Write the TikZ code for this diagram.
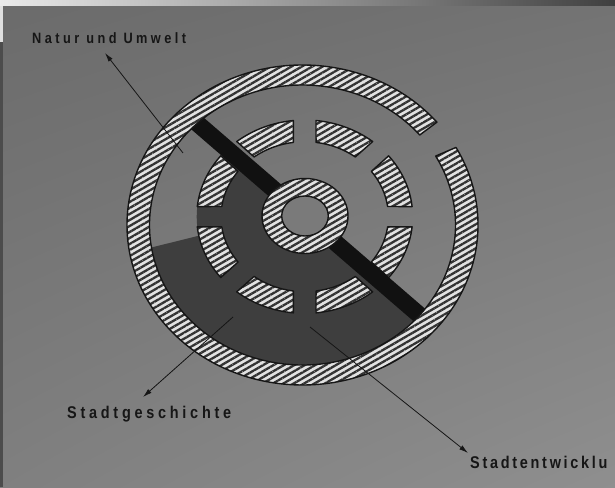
\documentclass[tikz,border=0pt]{standalone}
\usepackage{fontspec}
\newfontfamily\labelfont{Liberation Sans}[FakeStretch=0.85]
\usepackage{tikz}
\usetikzlibrary{arrows.meta,calc,patterns.meta,shadings}
\definecolor{Ink}{HTML}{161616}
\definecolor{Paper}{HTML}{E2E2E2}
\definecolor{Hatch}{HTML}{333333}
\definecolor{Shadow}{HTML}{3E3E3E}
\definecolor{Bar}{HTML}{111111}
\definecolor{Board}{HTML}{7A7A7A}

\begin{document}
\begin{tikzpicture}[x=1pt,y=1pt,
    hatched/.style={preaction={fill=Paper},
      preaction={pattern={Lines[angle=30,distance=5.2pt,line width=2.3pt]},pattern color=Hatch},
      draw=Ink,line width=1.4pt,line join=round},
    caption/.style 2 args={font=\labelfont\bfseries\fontsize{#1}{#1}\selectfont\addfontfeatures{LetterSpace=#2},
      text=Ink,inner sep=0pt,anchor=base west},
    pointer/.style={Ink,line width=.8pt,-{Latex[length=9pt,width=5pt]}}]
  \useasboundingbox (0,0) rectangle (615,487);
  \shade[upper left=black!58,upper right=black!55,lower left=black!50,lower right=black!44] (0,0) rectangle (615,487);
  \shade[left color=black!8,middle color=black!50,right color=black!75] (0,481) rectangle (615,487);
  \fill[black!70] (0,0) rectangle (3,445);
  \fill[black!12] (0,445) rectangle (3,481);
  \coordinate (O) at (302.5,262);
  \coordinate (D) at (304.7,270.3);
  \coordinate (C) at (305,271);
  \begin{scope}
    \clip (100,448.6) -- (520,86.2) -- (520,0) -- (100,0) -- cycle;
    \fill[Shadow] (D) ellipse [x radius=108,y radius=96.7];
    \fill[Shadow] (230,259) -- ([shift={(O)}]189.4:158 and 145) arc[start angle=189.4,end angle=340,x radius=158,y radius=145] -- (D) -- cycle;
  \end{scope}
  \foreach \a in {0,45,...,315}
    \draw[hatched] ([shift={(D)}]\a+6:108 and 96.7) arc[start angle=\a+6,end angle=\a+39,x radius=108,y radius=96.7]
      -- ([shift={(D)}]\a+37.2:83.7 and 75) arc[start angle=\a+37.2,end angle=\a+7.8,x radius=83.7,y radius=75] -- cycle;
  \begin{scope}
    \clip (O) ellipse [x radius=160,y radius=147];
    \draw[Bar,line width=17pt] (303.5,272) ++(139.2:200) -- ++(-40.8:400);
  \end{scope}
  \draw[hatched] (C) ellipse [x radius=43,y radius=37.5];
  \draw[Ink,line width=1.4pt,fill=Board] (C) ellipse [x radius=23.3,y radius=20];
  \draw[hatched] ([shift={(O)}]40:175.5 and 160) arc[start angle=40,end angle=389,x radius=175.5,y radius=160]
    -- ([shift={(O)}]29.5:153 and 140) arc[start angle=389.5,end angle=40,x radius=153,y radius=140] -- cycle;
  \node[caption={15}{23}] (natur) at (32,443) {Natur und Umwelt};
  \node[caption={17}{22}] (geschichte) at (67,69) {Stadtgeschichte};
  \node[caption={17}{16}] (entwicklung) at (470,19) {Stadtentwicklu};
  \coordinate (natur-tail) at (183,334);
  \coordinate (natur-tip) at (105,434);
  \coordinate (geschichte-tail) at (233,170);
  \coordinate (geschichte-tip) at (143,90);
  \coordinate (entwicklung-tail) at (310,160);
  \coordinate (entwicklung-tip) at (468,34);
  \draw[pointer] (natur-tail) -- (natur-tip);
  \draw[pointer] (geschichte-tail) -- (geschichte-tip);
  \draw[pointer] (entwicklung-tail) -- (entwicklung-tip);
\end{tikzpicture}
\end{document}
